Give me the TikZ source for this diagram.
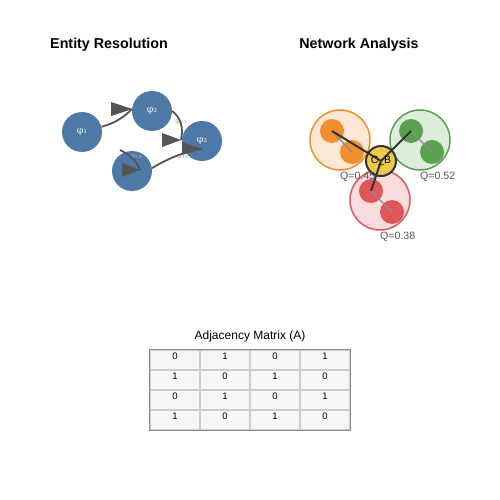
\documentclass[tikz,border=0pt]{standalone}
\usepackage{fontspec}
\setmainfont{Liberation Sans}
\newfontfamily\phifont{DejaVu Serif}
\definecolor{tblue}{HTML}{4E79A7}
\definecolor{torange}{HTML}{F28E2B}
\definecolor{tgreen}{HTML}{59A14F}
\definecolor{tred}{HTML}{E15759}
\definecolor{tyellow}{HTML}{EDC948}
\definecolor{lorange}{HTML}{FDE8D5}
\definecolor{lgreen}{HTML}{DEECDC}
\definecolor{lred}{HTML}{F9DCDD}
\definecolor{dgray}{HTML}{555555}
\definecolor{cellfill}{HTML}{F7F7F7}
\begin{document}
\begin{tikzpicture}[x=1pt,y=-1pt,
  title/.style={font=\bfseries\fontsize{14.3}{16}\selectfont},
  ent/.style={circle,fill=tblue,minimum size=40pt,inner sep=0pt,text=white!88!gray,font=\phifont\fontsize{9.5}{10}\selectfont},
  edge/.style={draw=dgray,line width=1.8pt},
  head/.style={fill=dgray},
  elabel/.style={text=gray!65,font=\phifont\fontsize{7.5}{8}\selectfont,inner sep=0pt},
  cluster/.style={circle,minimum size=60pt,inner sep=0pt,line width=1.5pt},
  dot/.style={circle,minimum size=24pt,inner sep=0pt},
  intra/.style={draw=gray!90,line width=1.4pt},
  spoke/.style={draw=black!80,line width=2pt},
  qlabel/.style={text=dgray,font=\fontsize{10.6}{12}\selectfont,anchor=west,inner sep=0pt},
  cell/.style={draw=black!20,line width=1.2pt,fill=cellfill,minimum width=50pt,minimum height=20pt,inner sep=0pt},
  num/.style={font=\fontsize{9.5}{11}\selectfont,inner sep=0pt}
]
\useasboundingbox (0,0) rectangle (500,500);

% titles
\node[title] (t1) at (109,45) {Entity Resolution};
\node[title] (t2) at (359,45) {Network Analysis};

% entity resolution graph
\node[ent] (A) at (82,132) {φ₁};
\node[ent] (B) at (152,111) {φ₂};
\node[ent] (C) at (202,141) {φ₃};
\node[ent] (D) at (132,171) {φ₄};

\coordinate (e1t) at (132,109);
\coordinate (e2t) at (181,140);
\coordinate (e3s) at (120,150);
\coordinate (e3t) at (140,170);
\coordinate (e4t) at (202,149);

\node[elabel] (l1) at (118,112) {φ₁₂};
\node[elabel] (l2) at (181,122) {φ₂₃};
\node[elabel] (l3) at (136,157) {φ₁₄};
\node[elabel] (l4) at (182,157) {φ₄₃};

\draw[edge] (A.15) .. controls (116,123) and (125,116) .. (e1t);
\draw[edge] (B.0) .. controls (180,117) and (184,127) .. (e2t);
\draw[edge] (e3s) .. controls (130,155) and (137,161) .. (e3t);
\draw[edge] (D.8) .. controls (165,160) and (185,151) .. (e4t);

\fill[head] (e1t) -- ++(-21,-7) -- ++(0,14) -- cycle;
\fill[head] (e2t) -- ++(-19,-7) -- ++(0,14) -- cycle;
\fill[head] (e3t) -- ++(-18,-7) -- ++(0,14) -- cycle;
\fill[head] (e4t) -- ++(-20,-7) -- ++(0,13) -- cycle;

% network analysis
\node[cluster,draw=torange,fill=lorange] (K1) at (340,140) {};
\node[cluster,draw=tgreen,fill=lgreen] (K2) at (420,140) {};
\node[cluster,draw=tred,fill=lred] (K3) at (380,200) {};

\node[dot,fill=torange] (o1) at (332,131) {};
\node[dot,fill=torange] (o2) at (352,152) {};
\node[dot,fill=tgreen] (g1) at (411,131) {};
\node[dot,fill=tgreen] (g2) at (432,152) {};
\node[dot,fill=tred] (r1) at (371,191) {};
\node[dot,fill=tred] (r2) at (392,212) {};

\draw[intra] (o1.center) -- (o2.center);
\draw[intra] (g1.center) -- (g2.center);
\draw[intra] (r1.center) -- (r2.center);

\node[circle,fill=tyellow,draw=black!80,line width=2pt,minimum size=30pt,inner sep=0pt] (CB) at (381,161) {};
\draw[spoke] (CB.center) -- (o1.center);
\draw[spoke] (CB.center) -- (g1.center);
\draw[spoke] (CB.center) -- (r1.center);
\node[font=\fontsize{10.5}{12}\selectfont,inner sep=0pt] (CBl) at (381,161) {C\_B};

\node[qlabel] (q1) at (340,177) {Q=0.45};
\node[qlabel] (q2) at (420,177) {Q=0.52};
\node[qlabel] (q3) at (380,237) {Q=0.38};

% adjacency matrix
\node[font=\fontsize{12}{14}\selectfont] (mt) at (250,336) {Adjacency Matrix (A)};
\foreach \r/\vals in {0/{0,1,0,1},1/{1,0,1,0},2/{0,1,0,1},3/{1,0,1,0}}{
  \foreach \v [count=\c from 0] in \vals {
    \node[cell] (m\r\c) at ({175+50*\c},{360+20*\r}) {};
    \node[num] (n\r\c) at ({175+50*\c},{356+20*\r}) {\v};
  }
}
\draw[black!45,line width=1pt] (m00.north west) rectangle (m33.south east);
\end{tikzpicture}
\end{document}
